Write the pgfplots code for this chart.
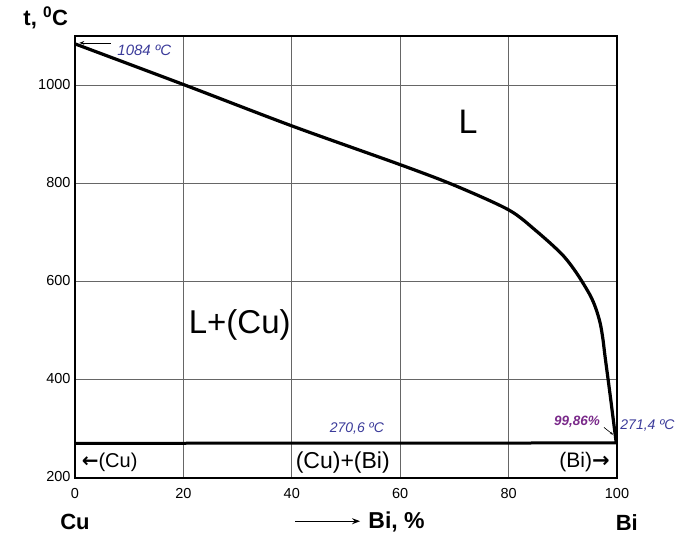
\documentclass[border=0pt]{standalone}
\usepackage{fontspec}
\setmainfont{Liberation Sans}
\newfontfamily\dejavu{DejaVu Sans}
\usepackage{pgfplots}
\pgfplotsset{compat=1.18}
\usetikzlibrary{arrows.meta}
\definecolor{annblue}{HTML}{3B3B9A}
\definecolor{annpurple}{HTML}{7A2A8A}

\begin{document}
\begin{tikzpicture}
  \begin{axis}[
      scale only axis, width=542pt, height=442pt,
      xmin=0, xmax=100, ymin=200, ymax=1100,
      xtick={0,20,...,100}, ytick={200,400,...,1000},
      grid=major, major grid style={black!60, line width=1pt},
      tick style={draw=none},
      axis line style={black, line width=2.2pt},
      tick label style={font=\fontsize{14.5}{16}\selectfont},
      /pgf/number format/assume math mode=true,
      /pgf/number format/set thousands separator={},
      xticklabel style={yshift=-7pt},
      yticklabel style={xshift=-1pt, yshift=1pt},
      clip=false,
    ]
    % liquidus
    \addplot[black, line width=3.2pt, smooth, tension=0.5] coordinates {
      (0,1084) (20.3,1000) (40,917) (60,838) (70,796) (80,746)
      (85,704) (89.8,656) (92.5,618) (95.0,573) (96.1,545)
      (96.9,515) (97.4,483) (97.8,447) (98.7,372) (99.3,320) (99.86,271.4)
    };
    % eutectic line
    \addplot[black, line width=3pt] coordinates {(0,270.6) (100,271.4)};

    % phase labels
    \node at (axis cs:72.5,925) {\fontsize{34}{36}\selectfont L};
    \node at (axis cs:30.4,511) {\fontsize{33}{36}\selectfont L+(Cu)};
    \node at (axis cs:49.4,231) {\fontsize{23}{26}\selectfont (Cu)+(Bi)};
    \node[anchor=west] at (axis cs:0.6,232) {\fontsize{20}{22}\selectfont{\dejavu\bfseries ←}(Cu)};
    \node[anchor=east] at (axis cs:99.3,232) {\fontsize{21}{23}\selectfont (Bi){\dejavu\bfseries →}};

    % annotations
    \draw[-{Stealth[length=5pt]}, black, line width=0.6pt] (axis cs:6.6,1086) -- (axis cs:0.8,1086);
    \node[anchor=west, text=annblue, inner sep=0pt] at (axis cs:7.8,1071) {\fontsize{15}{17}\selectfont\itshape 1084 ºC};
    \node[text=annblue] at (axis cs:52,300) {\fontsize{14}{16}\selectfont\itshape 270,6 ºC};
    \node[text=annpurple, inner sep=0pt] at (axis cs:92.6,314) {\fontsize{13.5}{16}\selectfont\itshape\bfseries 99,86\%};
    \node[anchor=west, text=annblue, inner sep=0pt] at (axis cs:100.6,306) {\fontsize{14}{16}\selectfont\itshape 271,4 ºC};
    \draw[-{Stealth[length=3.5pt]}, black, line width=0.6pt] (axis cs:97.6,303) -- (axis cs:99.3,288);

    % axis titles
    \node at (axis cs:-5.4,1137) {\fontsize{22}{24}\selectfont\bfseries t, \textsuperscript{0}C};
    \node at (axis cs:0,110) {\fontsize{22}{24}\selectfont\bfseries Cu};
    \node at (axis cs:101.8,110) {\fontsize{22}{24}\selectfont\bfseries Bi};
    \draw[-{Stealth[length=8pt]}, black, line width=1.4pt] (axis cs:40.6,112) -- (axis cs:52.6,112);
    \node[anchor=west, inner sep=0pt] at (axis cs:54.1,110) {\fontsize{23}{25}\selectfont\bfseries Bi, \%};
  \end{axis}
  \pgfresetboundingbox
  \path (-75pt,-63pt) rectangle (612pt,478pt);
\end{tikzpicture}
\end{document}
